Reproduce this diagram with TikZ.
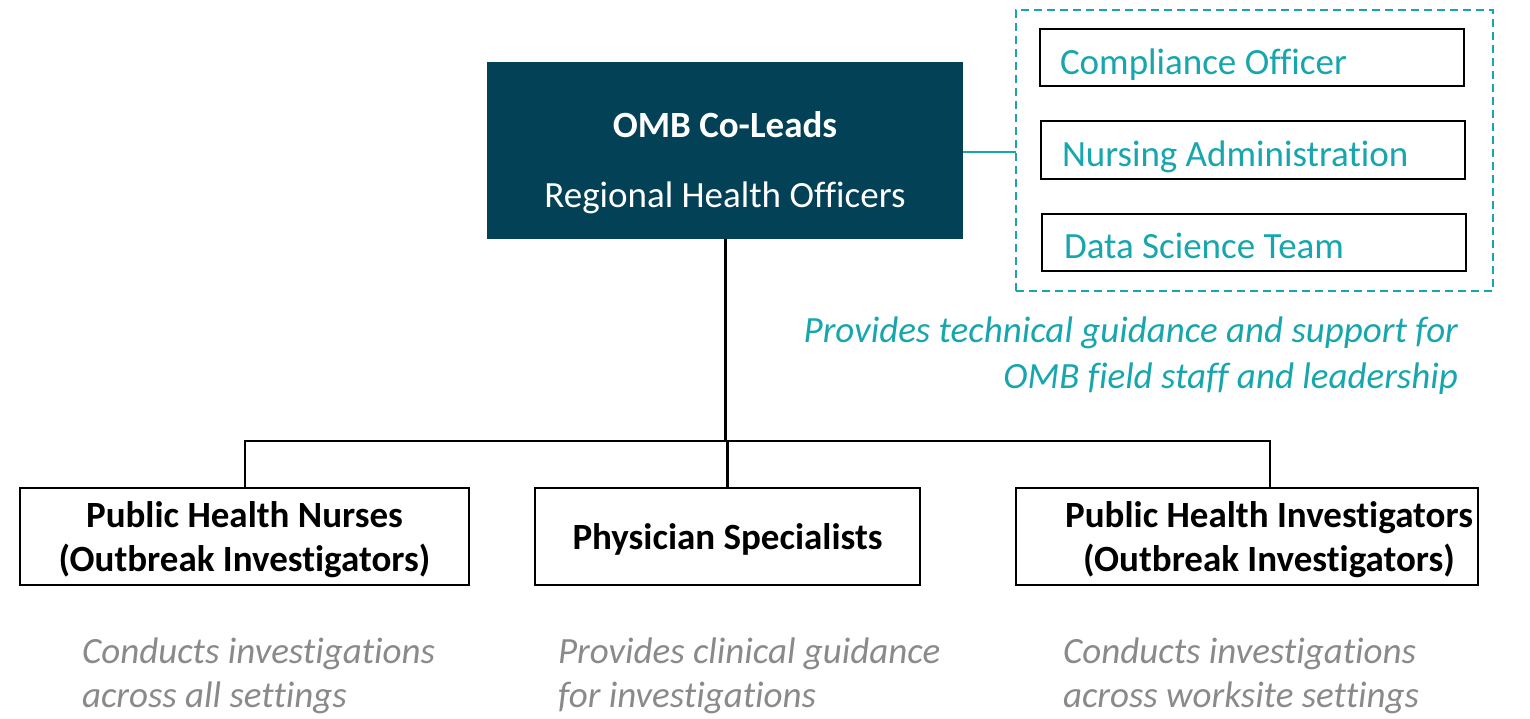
\documentclass[tikz,border=0pt]{standalone}
\usepackage{fontspec}
\setmainfont[RawFeature={-liga;-clig;-calt;-rlig;-dlig}]{Carlito}
\definecolor{navy}{HTML}{024156}
\definecolor{teal2}{HTML}{17A6AE}
\definecolor{greytxt}{HTML}{8A8A8A}
\begin{document}
\begin{tikzpicture}[x=1pt,y=1pt,
  every node/.style={inner sep=0pt, outer sep=0pt},
  boxline/.style={draw=black, line width=1.8pt},
  subbox/.style={boxline, fill=white},
  tealtxt/.style={text=teal2, font=\fontsize{37}{45}\selectfont},
  bolddark/.style={font=\fontsize{37}{45}\selectfont\bfseries, align=center},
  greynote/.style={text=greytxt, font=\fontsize{37}{44}\selectfont\itshape, anchor=base west},
  conn/.style={draw=black, line width=2.2pt},
  trunk/.style={draw=black, line width=3pt}
]
\useasboundingbox (0,0) rectangle (1530,-718);

% top box
\node[fill=navy, minimum width=476, minimum height=177] (top) at (725,-150.5) {};
\node[anchor=base, text=white, font=\fontsize{37}{45}\selectfont\bfseries] (toptitle) at (725,-137) {OMB Co-Leads};
\node[anchor=base, text=white, font=\fontsize{37}{45}\selectfont] (topsub) at (725,-207) {Regional Health Officers};

% dashed group
\node[draw=teal2, dashed, dash pattern=on 8pt off 5pt, line width=1.8pt, minimum width=477, minimum height=281] (grp) at (1254.5,-150.5) {};
\node[subbox, minimum width=424, minimum height=57] (co) at (1252,-57.5) {};
\node[subbox, minimum width=424, minimum height=58] (na) at (1253,-150) {};
\node[subbox, minimum width=424, minimum height=57] (ds) at (1254,-242.5) {};
\node[tealtxt, anchor=base west] (cot) at (1060,-74) {Compliance Officer};
\node[tealtxt, anchor=base west] (nat) at (1062,-166) {Nursing Administration};
\node[tealtxt, anchor=base west] (dst) at (1064,-258) {Data Science Team};

\draw[draw=teal2, line width=2pt] (top.east |- 0,-152) -- (grp.west |- 0,-152);

% teal note
\node[anchor=base east, text=teal2, font=\fontsize{37}{45}\selectfont\itshape] (note1) at (1458,-342) {Provides technical guidance and support for};
\node[anchor=base east, text=teal2, font=\fontsize{37}{45}\selectfont\itshape] (note2) at (1458,-388) {OMB field staff and leadership};

% bottom boxes
\node[boxline, minimum width=449, minimum height=97] (n1) at (244.5,-536.5) {};
\node[boxline, minimum width=385, minimum height=97] (n2) at (727.5,-536.5) {};
\node[boxline, minimum width=462, minimum height=97] (n3) at (1247,-536.5) {};
\node[bolddark, anchor=base] (n1a) at (244.5,-527) {Public Health Nurses};
\node[bolddark, anchor=base] (n1b) at (244.5,-571) {(Outbreak Investigators)};
\node[bolddark, anchor=base] (n2a) at (727.5,-549) {Physician Specialists};
\node[bolddark, anchor=base] (n3a) at (1269,-527) {Public Health Investigators};
\node[bolddark, anchor=base] (n3b) at (1269,-571) {(Outbreak Investigators)};

% connectors
\coordinate (busL) at (245,-441);
\coordinate (busR) at (1270,-441);
\draw[trunk] (top.south) -- (top.south |- busL);
\draw[conn] (busL |- n1.north) -- (busL) -- (busR) -- (busR |- n3.north);
\draw[conn] (n2.north) -- (n2.north |- busL);

% grey notes
\node[greynote] (g1a) at (82,-663) {Conducts investigations};
\node[greynote] (g1b) at (82,-707) {across all settings};
\node[greynote] (g2a) at (558,-663) {Provides clinical guidance};
\node[greynote] (g2b) at (558,-707) {for investigations};
\node[greynote] (g3a) at (1063,-663) {Conducts investigations};
\node[greynote] (g3b) at (1063,-707) {across worksite settings};
\end{tikzpicture}
\end{document}
